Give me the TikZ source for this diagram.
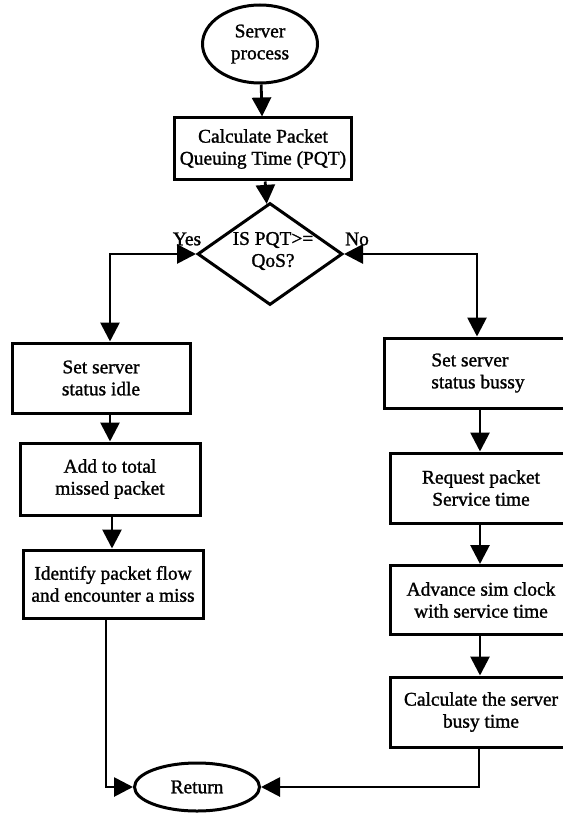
\documentclass[tikz,border=0pt]{standalone}
\usepackage{fontspec}
\setmainfont{Liberation Serif}[FakeBold=1.3]
\usetikzlibrary{shapes.geometric,arrows.meta}
\begin{document}
\begin{tikzpicture}[x=1pt,y=-1pt,
  font=\fontsize{19.4pt}{22pt}\selectfont,
  every node/.style={inner sep=2pt},
  box/.style={draw,line width=3pt,rectangle,align=center},
  term/.style={draw,line width=3pt,ellipse,inner sep=0pt,align=center},
  dec/.style={draw,line width=3pt,diamond,inner sep=0pt},
  conn/.style={line width=2.8pt,-{Triangle[length=19pt,width=19pt]}},
  bconn/.style={line width=2.8pt,{Triangle[length=19pt,width=19pt]}-{Triangle[length=19pt,width=19pt]}},
  lab/.style={inner sep=0pt}]
\useasboundingbox (0,0) rectangle (562,813);
% nodes
\node[term,minimum width=115pt,minimum height=78pt] (sp) at (260,44) {Server\\process};
\node[box,minimum width=177pt,minimum height=62pt] (calc) at (263,149) {Calculate Packet\\Queuing Time (PQT)};
\node[dec,minimum width=145pt,minimum height=102pt] (dia) at (270,254) {};
\node[lab,align=center] (diatext) at (273,251) {IS PQT>=\\QoS?};
\node[lab] (yes) at (187,239) {Yes};
\node[lab] (no) at (357,239) {No};
\node[box,minimum width=178pt,minimum height=70pt] (idle) at (101,378) {Set server\\status idle};
\node[box,minimum width=180pt,minimum height=72pt] (add) at (110,479) {Add to total\\missed packet};
\node[box,minimum width=180pt,minimum height=68pt] (ident) at (113,584) {Identify packet flow\\and encounter a miss};
\node[box,align=left,minimum width=187pt,minimum height=70pt] (bussy) at (478,373) {Set server\\status bussy};
\node[box,minimum width=181pt,minimum height=70pt] (req) at (481,488) {Request packet\\Service time};
\node[box,minimum width=182pt,minimum height=69pt] (adv) at (481,600) {Advance sim clock\\with service time};
\node[box,minimum width=182pt,minimum height=70pt] (cst) at (481,712) {Calculate the server\\busy time};
\node[term,minimum width=125pt,minimum height=48pt] (ret) at (197,787) {Return};
% helper coordinates
\coordinate (yx) at (110,254);
\coordinate (nx) at (477,254);
\coordinate (rx) at (480,0);
\coordinate (lb) at (106,787);
\coordinate (rb) at (479,787);
% connectors
\draw[conn] (sp) -- (calc);
\draw[conn] (calc) -- (dia);
\draw[bconn] (dia.west) -- (yx) -- (yx |- idle.north);
\draw[bconn] (dia.east) -- (nx) -- (nx |- bussy.north);
\draw[conn] (yx |- idle.south) -- (yx |- add.north);
\draw[conn] ([xshift=2pt]yx |- add.south) -- ([xshift=2pt]yx |- ident.north);
\draw[conn] (rx |- bussy.south) -- (rx |- req.north);
\draw[conn] (rx |- req.south) -- (rx |- adv.north);
\draw[conn] (rx |- adv.south) -- (rx |- cst.north);
\draw[conn] (lb |- ident.south) -- (lb) -- (ret.west);
\draw[conn] (rb |- cst.south) -- (rb) -- (ret.east);
\end{tikzpicture}
\end{document}
